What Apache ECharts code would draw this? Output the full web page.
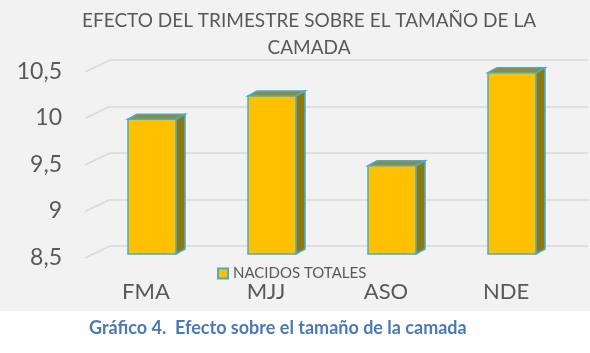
<!DOCTYPE html>
<html>
<head>
<meta charset="utf-8">
<script src="https://cdn.jsdelivr.net/npm/echarts@6/dist/echarts.min.js"></script>
<style>
  html, body { margin: 0; padding: 0; background: #fff; }
  #main { width: 590px; height: 353px; }
</style>
</head>
<body>
<div id="main"></div>
<script>
// datos del gráfico
var trimestres = ['FMA', 'MJJ', 'ASO', 'NDE'];
var nacidosTotales = [9.95, 10.2, 9.45, 10.45];
var yTicks = [8.5, 9, 9.5, 10, 10.5];
var tituloTexto = 'EFECTO DEL TRIMESTRE SOBRE EL TAMAÑO DE LA\nCAMADA';
var pieTexto = 'Gráfico 4.  Efecto sobre el tamaño de la camada';

var yMin = 8.5, yMax = 10.5;
var FONT = 'Lato';

var chart = echarts.init(document.getElementById('main'), null, { renderer: 'canvas' });

// líneas diagonales del "suelo" 3D
function renderDiag(params, api) {
    var v = api.value(1);
    var y = api.coord([0, v])[1];
    var x = params.coordSys.x;
    return {
        type: 'line',
        shape: { x1: x - 25, y1: y + 12, x2: x, y2: y },
        style: { stroke: '#d9d9d9', lineWidth: 1.5 }
    };
}

// barras con efecto 3D
function renderBar(params, api) {
    var i = api.value(0), v = api.value(1);
    var top = api.coord([i, v]);
    var base = api.coord([i, yMin]);
    var w = api.size([1, 0])[0] * 0.4;
    var x0 = top[0] - w / 2, x1 = top[0] + w / 2;
    var dx = 9, dy = 5;
    var edge = '#4bacc6';
    return {
        type: 'group',
        children: [
            {
                type: 'polygon',
                shape: { points: [[x1, top[1]], [x1 + dx, top[1] - dy], [x1 + dx, base[1] - dy], [x1, base[1]]] },
                style: { fill: '#8c7a12', stroke: edge, lineWidth: 1.5 }
            },
            {
                type: 'polygon',
                shape: { points: [[x0, top[1]], [x0 + dx, top[1] - dy], [x1 + dx, top[1] - dy], [x1, top[1]]] },
                style: { fill: '#8f8a3c', stroke: edge, lineWidth: 1.5 }
            },
            {
                type: 'rect',
                shape: { x: x0, y: top[1], width: w, height: base[1] - top[1] },
                style: { fill: '#ffc000', stroke: edge, lineWidth: 1.5 }
            }
        ]
    };
}

var option = {
    backgroundColor: '#ffffff',
    animation: false,
    graphic: [{
        type: 'rect',
        z: -10,
        shape: { x: 0, y: 0, width: 590, height: 311 },
        style: { fill: '#f2f2f2' }
    }],
    title: [{
        text: tituloTexto,
        left: 304,
        top: 2,
        textAlign: 'center',
        textStyle: { fontFamily: FONT, fontSize: 19, fontWeight: 'normal', color: '#595959', lineHeight: 27 }
    }, {
        text: pieTexto,
        left: 84,
        top: 314,
        textStyle: { fontFamily: FONT, fontSize: 18, fontWeight: 'bold', color: '#4a7ab4' }
    }],
    legend: {
        left: 212,
        top: 261,
        icon: 'rect',
        itemWidth: 10,
        itemHeight: 10,
        itemGap: 5,
        data: ['NACIDOS TOTALES'],
        textStyle: { fontFamily: FONT, fontSize: 15, color: '#595959' }
    },
    grid: [
        // plano del fondo (líneas y etiquetas del eje Y)
        { left: 110, right: 2, top: 60, bottom: 107 },
        // plano frontal de las barras
        { left: 92, right: 18, top: 68, bottom: 99 }
    ],
    xAxis: [{
        gridIndex: 0,
        type: 'category',
        data: trimestres,
        axisLine: { show: false },
        axisTick: { show: false },
        axisLabel: { show: false }
    }, {
        gridIndex: 1,
        type: 'category',
        data: trimestres,
        axisLine: { show: false },
        axisTick: { show: false },
        axisLabel: {
            margin: 27,
            fontFamily: FONT,
            fontSize: 22,
            color: '#595959',
            padding: [0, 12, 0, 0]
        }
    }],
    yAxis: [{
        gridIndex: 0,
        type: 'value',
        min: yMin,
        max: yMax,
        interval: 0.5,
        axisLine: { show: false },
        axisTick: { show: false },
        splitLine: { lineStyle: { color: '#d9d9d9', width: 1.5 } },
        axisLabel: {
            margin: 48,
            fontFamily: FONT,
            fontSize: 23,
            color: '#595959',
            verticalAlign: 'top',
            formatter: function (v) { return String(v).replace('.', ','); }
        }
    }, {
        gridIndex: 1,
        type: 'value',
        min: yMin,
        max: yMax,
        show: false
    }],
    series: [{
        type: 'custom',
        name: 'diag',
        xAxisIndex: 0,
        yAxisIndex: 0,
        silent: true,
        renderItem: renderDiag,
        data: yTicks.map(function (t) { return [0, t]; })
    }, {
        type: 'custom',
        name: 'NACIDOS TOTALES',
        xAxisIndex: 1,
        yAxisIndex: 1,
        renderItem: renderBar,
        itemStyle: { color: '#ffc000', borderColor: '#4bacc6', borderWidth: 1.5 },
        encode: { x: 0, y: 1 },
        data: nacidosTotales.map(function (v, i) { return [i, v]; })
    }]
};

chart.setOption(option);
</script>
</body>
</html>
